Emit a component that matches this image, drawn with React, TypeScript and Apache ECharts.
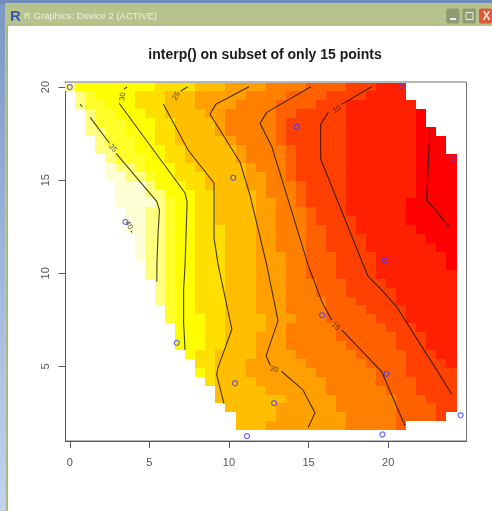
import React, { useEffect, useRef } from "react";
import * as echarts from "echarts";

const titleText = "interp() on subset of only 15 points";
const windowTitle = "R Graphics: Device 2 (ACTIVE)";
const xTicks = [0, 5, 10, 15, 20];
const yTicks = [5, 10, 15, 20];

// heat.colors(12): level 0 is the hottest
const palette = ["#FF0000", "#FF2000", "#FF4000", "#FF6000", "#FF8000", "#FF9F00", "#FFBF00", "#FFDF00", "#FFFF00", "#FFFF2A", "#FFFF80", "#FFFFD5"];

// grid of the interpolated surface
const gridXStep = 0.631;
const gridYStep = 0.4785;
const gridYTop = 20;

// Per row (top to bottom): first and last filled column, and the column where each colour level starts
const firstCol = [0,1,1,2,2,2,3,3,4,4,4,5,5,5,6,6,6,7,7,7,8,8,9,9,9,10,10,11,11,11,12,13,13,14,15,15,16,17,17];
const lastCol = [33,33,34,35,35,36,37,37,38,38,38,38,38,38,38,38,38,38,38,38,38,38,38,38,38,38,38,38,38,38,38,38,38,38,38,38,38,37,33];
const start0 = [99,99,99,35,35,35,35,35,35,35,35,35,35,34,34,34,35,36,37,38,38,99,99,99,99,99,99,99,99,99,99,99,99,99,99,99,99,99,99];
const start1 = [31,30,28,28,28,28,28,28,28,28,28,28,28,28,28,29,29,30,30,31,31,31,32,33,33,34,34,35,36,36,37,38,99,99,99,99,99,99,99];
const start2 = [28,26,25,23,22,22,22,23,23,23,23,24,24,24,25,25,26,26,26,27,27,27,28,28,29,30,31,32,33,33,34,34,34,35,35,36,37,37,99];
const start3 = [24,22,21,21,21,21,21,22,22,22,22,23,23,23,24,24,24,24,24,24,24,24,25,25,26,26,26,27,27,28,29,30,31,31,32,33,33,33,33];
const start4 = [20,18,17,16,16,16,17,18,18,19,20,20,20,21,21,21,21,21,21,22,22,22,22,22,22,22,23,22,22,22,23,24,25,26,26,27,27,28,28];
const start5 = [16,13,13,14,15,15,16,17,17,18,18,18,19,19,19,19,19,19,19,19,19,19,19,19,19,19,20,20,19,19,19,18,18,19,20,22,21,21,20];
const start6 = [13,10,10,10,11,11,11,12,12,13,14,14,15,15,15,15,16,16,16,16,16,16,16,16,16,16,16,16,16,16,15,15,15,15,15,15,15,15,15];
const start7 = [9,7,7,8,9,9,9,10,10,11,11,12,13,13,13,13,13,13,13,13,13,13,13,13,13,13,14,14,14,14,13,13,14,14,99,99,99,99,99];
const start8 = [1,3,4,5,6,6,7,7,8,8,9,9,10,11,11,11,11,11,11,11,11,11,11,11,11,11,11,11,11,11,11,11,11,11,11,11,11,11,11];
const start9 = [1,2,2,3,3,4,4,5,5,7,8,9,10,10,10,10,10,10,10,10,10,10,10,10,10,10,10,11,11,11,11,11,11,11,11,11,11,11,11];
const start10 = [0,1,1,2,2,2,3,3,4,5,6,8,8,9,8,8,8,8,8,8,8,8,9,9,9,10,10,10,10,10,10,10,10,10,10,10,10,10,10];
const levelStarts = [start0, start1, start2, start3, start4, start5, start6, start7, start8, start9, start10];

// Contour lines, broken where their labels sit
const contour5 = [[22.62,17.69],[22.42,13.94],[23.57,12.77]];
const contour10a = [[18.96,20.02],[17.08,19.07]];
const contour10b = [[16.24,18.64],[15.76,18.0],[15.76,16.14],[18.44,10.45],[18.75,9.82],[19.48,9.2],[20.53,8.21],[23.04,4.82],[23.99,3.51]];
const contour15a = [[15.14,20.02],[12.37,18.64],[11.95,18.05],[12.69,16.8],[14.97,10.45],[15.83,8.48],[16.45,7.5]];
const contour15b = [[17.08,6.96],[19.59,4.73],[21.05,1.83]];
const contour20a = [[11.26,20.02],[9.17,19.07],[8.81,18.54],[10.69,15.98],[11.32,14.2],[12.37,10.45],[13.08,7.46],[12.33,5.57],[12.6,5.05]];
const contour20b = [[13.31,4.73],[14.65,3.74],[15.4,2.51],[14.98,1.72]];
const contour25a = [[7.41,20.02],[6.97,19.79]];
const contour25b = [[5.88,19.07],[7.43,16.62],[9.06,14.85],[9.06,11.9],[9.32,10.45],[10.18,7.0],[9.3,4.91],[9.23,4.55],[9.69,2.99]];
const contour30a = [[3.6,20.0],[3.41,19.89]];
const contour30b = [[3.1,19.13],[7.24,14.31],[7.37,13.83],[7.24,10.45],[7.15,9.11],[7.15,7.34],[7.24,5.89]];
const contour35a = [[0.65,19.09],[0.78,18.93]];
const contour35b = [[1.28,18.37],[2.49,16.98]];
const contour35c = [[2.91,16.44],[5.47,13.85],[5.63,13.4],[5.55,12.22],[5.47,10.45],[5.47,9.55]];
const contour40 = [[3.85,12.27],[3.9,12.2]];
const contours = [contour5, contour10a, contour10b, contour15a, contour15b, contour20a, contour20b, contour25a, contour25b, contour30a, contour30b, contour35a, contour35b, contour35c, contour40];

// [x, y, text, rotation]
const contourLabels: [number, number, string, number][] = [
  [23.74, 12.56, "5", 0],
  [16.77, 18.82, "10", 30],
  [16.72, 7.18, "15", -45],
  [12.86, 4.87, "20", -15],
  [6.68, 19.53, "25", 60],
  [3.29, 19.49, "30", 85],
  [2.72, 16.73, "35", -50],
  [3.73, 12.6, "40", -60],
];

const pointsX = [0, 10.27, 3.5, 20.85, 14.25, 24.1, 19.8, 6.72, 10.38, 11.13, 15.85, 19.9, 12.83, 19.64, 24.55];
const pointsY = [20, 15.13, 12.76, 20, 17.87, 16.2, 10.7, 6.27, 4.1, 1.26, 7.75, 4.6, 3.03, 1.35, 2.38];

const FONT = "Liberation Sans";

function buildCells() {
  const cells: number[][] = [];
  firstCol.forEach((first, row) => {
    for (let col = first; col <= lastCol[row]; col++) {
      let level = 11;
      for (let l = 0; l < levelStarts.length; l++) {
        if (levelStarts[l][row] <= col) {
          level = l;
          break;
        }
      }
      cells.push([col * gridXStep, gridYTop - row * gridYStep, level]);
    }
  });
  return cells;
}

export default function App() {
  const ref = useRef<HTMLDivElement>(null);
  useEffect(() => {
    const chart = echarts.init(ref.current!, undefined, { renderer: "svg" });
    const cells = buildCells();
    const axisColor = "#5a5a5a";
    const minimal = { show: false };
    chart.setOption({
      animation: false,
      backgroundColor: "#ffffff",
      title: {
        text: titleText,
        left: 260,
        top: 42,
        textAlign: "center",
        textStyle: { fontFamily: FONT, fontSize: 14, fontWeight: "bold", color: "#1a1a1a" },
      },
      grid: { left: 65.5, top: 82, width: 401, height: 359, show: true, borderColor: "#707070", borderWidth: 1, backgroundColor: "transparent" },
      xAxis: {
        type: "value",
        min: -0.27,
        max: 24.92,
        splitLine: minimal,
        axisLine: { show: true, onZero: false, lineStyle: { color: axisColor } },
        axisTick: { show: true, length: 7, lineStyle: { color: axisColor }, customValues: xTicks },
        axisLabel: { margin: 15, fontFamily: FONT, fontSize: 11, color: "#555", customValues: xTicks, formatter: (v: number) => String(v) },
      },
      yAxis: {
        type: "value",
        min: 1.0,
        max: 20.27,
        splitLine: minimal,
        axisLine: { show: true, onZero: false, lineStyle: { color: axisColor } },
        axisTick: { show: true, length: 7, lineStyle: { color: axisColor }, customValues: yTicks },
        axisLabel: { margin: 15, rotate: 90, fontFamily: FONT, fontSize: 11, color: "#555", customValues: yTicks, formatter: (v: number) => String(v) },
      },
      series: [
        {
          type: "custom",
          silent: true,
          clip: false,
          z: 1,
          data: cells,
          encode: { x: 0, y: 1 },
          renderItem: (_: any, api: any) => {
            const x = api.value(0);
            const y = api.value(1);
            const level = api.value(2);
            const p0 = api.coord([x - gridXStep / 2, y + gridYStep / 2]);
            const p1 = api.coord([x + gridXStep / 2, y - gridYStep / 2]);
            const left = Math.round(p0[0]);
            const top = Math.round(p0[1]);
            return {
              type: "rect",
              shape: { x: left, y: top, width: Math.round(p1[0]) - left, height: Math.round(p1[1]) - top },
              style: { fill: palette[level] },
            };
          },
        },
        ...contours.map((seg) => ({
          type: "line",
          data: seg,
          z: 3,
          silent: true,
          symbol: "none",
          lineStyle: { color: "rgba(20,20,0,0.8)", width: 1.1 },
        })),
        {
          type: "scatter",
          silent: true,
          z: 4,
          symbol: "circle",
          symbolSize: 5,
          data: pointsX.map((x, i) => [x, pointsY[i]]),
          itemStyle: { color: "transparent", borderColor: "#4040ff", borderWidth: 1.2 },
        },
        {
          type: "scatter",
          silent: true,
          z: 5,
          symbolSize: 0,
          data: contourLabels.map(([x, y, text, rot]) => ({
            value: [x, y],
            label: {
              show: true,
              position: "inside",
              formatter: text,
              rotate: rot,
              fontFamily: FONT,
              fontSize: 7.5,
              color: "#222",
            },
          })),
        },
      ],
      graphic: [
        { type: "rect", silent: true, shape: { x: 0, y: 0, width: 5.5, height: 511 }, style: { fill: new echarts.graphic.LinearGradient(0, 0, 0, 1, [{ offset: 0, color: "#7a97c2" }, { offset: 1, color: "#c3d3ef" }]) } },
        { type: "rect", silent: true, shape: { x: 0, y: 0, width: 492, height: 3.5 }, style: { fill: "#6f8cba" } },
        { type: "rect", silent: true, shape: { x: 5.5, y: 3.5, width: 2.5, height: 507.5 }, style: { fill: "#a9b97c" } },
        { type: "rect", silent: true, shape: { x: 5.5, y: 3.5, width: 486.5, height: 22.5 }, style: { fill: "#b6c38c" } },
        { type: "text", silent: true, x: 10, y: 7.5, style: { text: "R", fontFamily: FONT, fontSize: 15, fontWeight: "bold", fill: "#3a55b5" } },
        { type: "text", silent: true, x: 24, y: 10, style: { text: windowTitle, fontFamily: FONT, fontSize: 9.5, fill: "#eef0e0" } },
        { type: "rect", silent: true, shape: { x: 446, y: 8.5, width: 13.5, height: 15, r: 2 }, style: { fill: "#8d9c72" } },
        { type: "rect", silent: true, shape: { x: 450, y: 18, width: 6, height: 2 }, style: { fill: "#eef0e0" } },
        { type: "rect", silent: true, shape: { x: 462.5, y: 8.5, width: 13.5, height: 15, r: 2 }, style: { fill: "#8d9c72" } },
        { type: "rect", silent: true, shape: { x: 466, y: 12.5, width: 7, height: 7 }, style: { fill: "transparent", stroke: "#eef0e0", lineWidth: 1 } },
        { type: "rect", silent: true, shape: { x: 479, y: 8.5, width: 13, height: 15, r: 2 }, style: { fill: "#e0583a" } },
        { type: "text", silent: true, x: 482.5, y: 9.5, style: { text: "X", fontFamily: FONT, fontSize: 12, fontWeight: "bold", fill: "#f6e8e0" } },
      ],
    });
    return () => chart.dispose();
  }, []);
  return (
    <div
      ref={ref}
      style={{ position: "absolute", left: 0, top: 0, width: 492, height: 511, filter: "blur(0.45px)" }}
    />
  );
}
